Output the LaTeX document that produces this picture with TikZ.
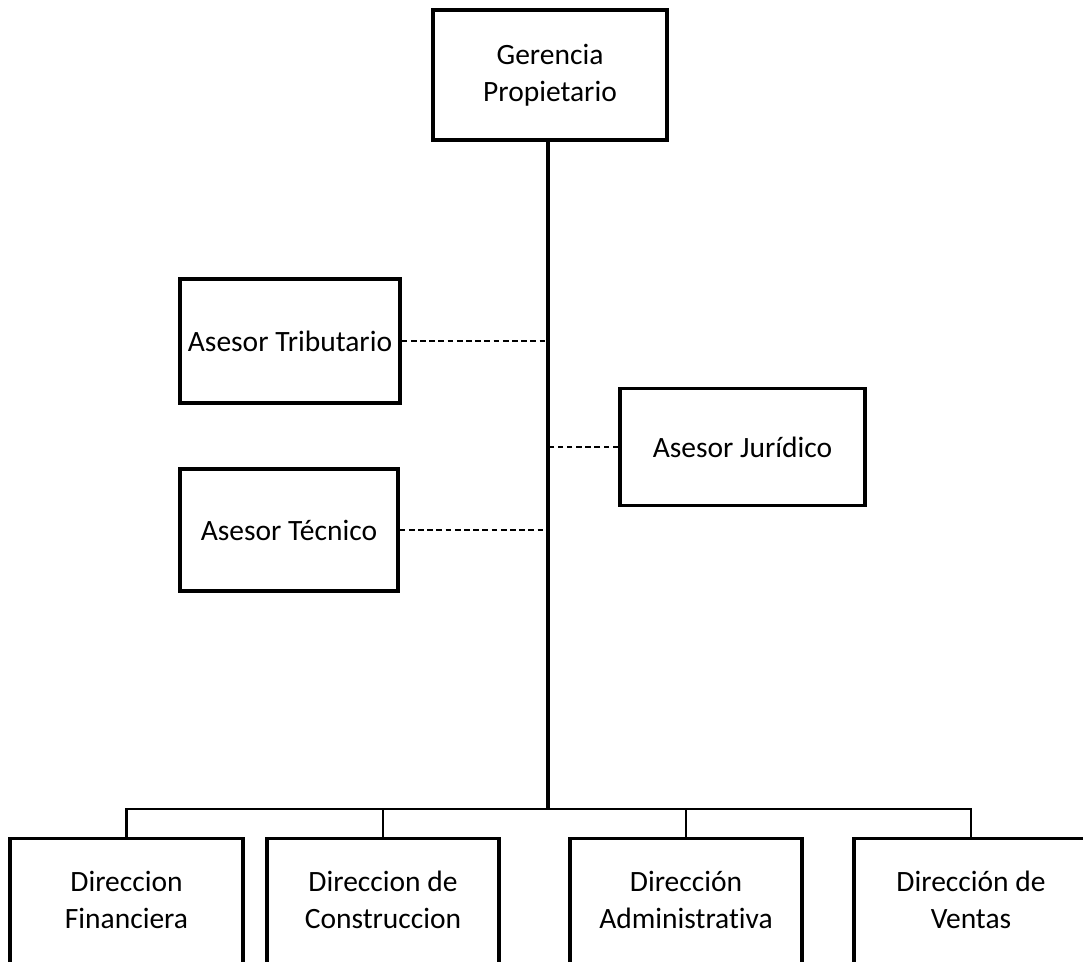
\documentclass[tikz,border=0pt]{standalone}
\usepackage{fontspec}
\setmainfont{Carlito}[Ligatures=NoCommon]
\usetikzlibrary{calc}

\begin{document}
\begin{tikzpicture}[x=1pt, y=-1pt, line join=miter,
  box/.style={draw, line width=3.2pt, align=center, inner sep=0pt,
    font=\fontsize{29.5}{36.5}\selectfont},
  dirbox/.style={draw, line width=3.2pt, anchor=north, minimum width=232pt,
    minimum height=200pt, inner sep=0pt},
  dirtext/.style={align=center, inner sep=0pt, font=\fontsize{29.5}{36.5}\selectfont},
  trunk/.style={line width=4pt},
  bus/.style={line width=2.7pt},
  link/.style={line width=1.4pt, dash pattern=on 5.7pt off 3.5pt}]

  % ===== Frame =====
  \useasboundingbox (0,0) rectangle (1083,961);
  \clip (0,0) rectangle (1083,961);

  % ===== Parameters =====
  \def\busY{809}     % height of the horizontal bus
  \def\dirTop{837}   % top edge of the bottom row
  \def\dirText{900}  % text line of the bottom row

  % ===== Top =====
  \node[box, minimum width=234pt, minimum height=130pt] (ger) at (550,75)
    {Gerencia\\Propietario};
  \coordinate (hub) at (548,\busY);

  % ===== Advisors =====
  \node[box, minimum width=220pt, minimum height=124pt] (trib) at (290,341)
    {Asesor Tributario};
  \node[box, minimum width=218pt, minimum height=122pt] (tec) at (289,530)
    {Asesor Técnico};
  \node[box, minimum width=245pt, minimum height=117pt] (jur) at (742.5,447)
    {Asesor Jurídico};

  % ===== Directions (cut by the lower edge) =====
  \node[dirbox, minimum width=233pt] (fin) at (126.5,\dirTop) {};
  \node[dirbox] (con) at (383,\dirTop) {};
  \node[dirbox] (adm) at (686,\dirTop) {};
  \node[dirbox, minimum width=234pt] (ven) at (971,\dirTop) {};

  \node[dirtext] (fin-txt) at (fin.north |- 0,\dirText) {Direccion\\Financiera};
  \node[dirtext] (con-txt) at (con.north |- 0,\dirText) {Direccion de\\Construccion};
  \node[dirtext] (adm-txt) at (adm.north |- 0,\dirText) {Dirección\\Administrativa};
  \node[dirtext] (ven-txt) at (ven.north |- 0,\dirText) {Dirección de\\Ventas};

  % ===== Connectors =====
  % main line
  \draw[trunk] (ger.south -| hub) -- ($(hub)+(0,1.35)$);

  % advisors (dashed)
  \draw[link] (trib.east) -- (trib.east -| hub);
  \draw[link] (tec.east) -- (tec.east -| hub);
  \draw[link] (jur.west) -- (jur.west -| hub);

  % bus and drops
  \draw[bus] ($(fin.north |- hub)+(-1.35,0)$) -- ($(ven.north |- hub)+(1.35,0)$);
  \draw[bus] (fin.north |- hub) -- (fin.north);
  \draw[bus] (con.north |- hub) -- (con.north);
  \draw[bus] (adm.north |- hub) -- (adm.north);
  \draw[bus] (ven.north |- hub) -- (ven.north);

\end{tikzpicture}
\end{document}
